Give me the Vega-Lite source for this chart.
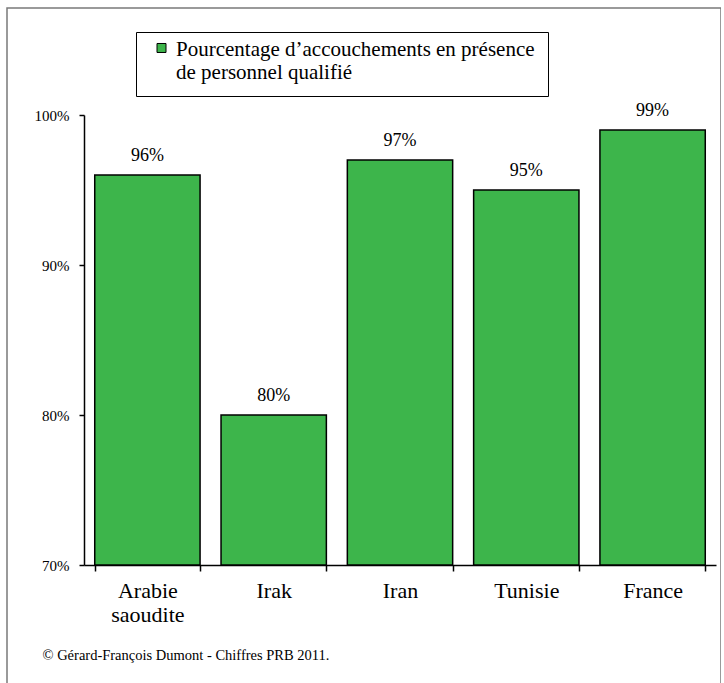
{
  "$schema": "https://vega.github.io/schema/vega-lite/v6.json",
  "width": 714,
  "height": 700,
  "autosize": "none",
  "padding": {"left": 7, "top": 8, "right": 0, "bottom": 0},
  "background": "white",
  "config": {
    "view": {"stroke": "#7a7a7a", "strokeWidth": 1.5},
    "font": "Liberation Serif",
    "axis": {"labelFont": "Liberation Serif", "titleFont": "Liberation Serif"},
    "legend": {"labelFont": "Liberation Serif"},
    "text": {"font": "Liberation Serif"}
  },
  "data": {
    "values": [
      {"pays": "Arabie saoudite", "taux": 0.96},
      {"pays": "Irak", "taux": 0.80},
      {"pays": "Iran", "taux": 0.97},
      {"pays": "Tunisie", "taux": 0.95},
      {"pays": "France", "taux": 0.99}
    ]
  },
  "encoding": {
    "x": {
      "field": "pays",
      "type": "nominal",
      "sort": null,
      "scale": {"range": [77, 709], "paddingInner": 0.166, "paddingOuter": 0.085},
      "axis": {
        "orient": "bottom",
        "offset": -143,
        "tickBand": "extent",
        "labelAngle": 0,
        "labelExpr": "split(datum.label, ' ')",
        "labelFont": "Liberation Serif",
        "labelFontSize": 22,
        "labelLineHeight": 24,
        "labelColor": "black",
        "labelPadding": 9,
        "labelBaseline": "top",
        "tickSize": 6,
        "tickColor": "black",
        "tickWidth": 1.5,
        "domainColor": "black",
        "domainWidth": 1.5,
        "grid": false,
        "title": "© Gérard-François Dumont - Chiffres PRB 2011.",
        "titleFont": "Liberation Serif",
        "titleFontSize": 14.5,
        "titleFontWeight": "normal",
        "titleColor": "black",
        "titleX": 35,
        "titleY": 90,
        "titleAlign": "left",
        "titleBaseline": "middle",
        "titleAngle": 0
      }
    },
    "y": {
      "field": "taux",
      "type": "quantitative",
      "scale": {"domain": [0.7, 1.0], "range": [557, 107], "zero": false},
      "axis": {
        "orient": "left",
        "offset": -77,
        "values": [0.7, 0.8, 0.9, 1.0],
        "format": ".0%",
        "labelFont": "Liberation Serif",
        "labelFontSize": 15,
        "labelColor": "black",
        "labelPadding": 10,
        "tickSize": 5,
        "tickColor": "black",
        "tickWidth": 1.5,
        "domainColor": "black",
        "domainWidth": 1.5,
        "grid": false,
        "title": null
      }
    }
  },
  "layer": [
    {
      "mark": {"type": "bar", "fill": "#3db54b", "stroke": "black", "strokeWidth": 1.5},
      "encoding": {
        "y2": {"datum": 0.7},
        "color": {
          "datum": "Pourcentage d’accouchements en présence de personnel qualifié",
          "type": "nominal",
          "scale": {"range": ["#3db54b"]},
          "legend": {
            "orient": "none",
            "legendX": 129,
            "legendY": 24,
            "title": null,
            "fillColor": "white",
            "strokeColor": "black",
            "padding": 13,
            "symbolType": "M-1,-2.67H1V-0.67H-1Z",
            "symbolSize": 81,
            "symbolOffset": 2,
            "symbolStrokeColor": "black",
            "symbolStrokeWidth": 1,
            "symbolFillColor": "#3db54b",
            "labelExpr": "['Pourcentage d’accouchements en présence', 'de personnel qualifié']",
            "labelFont": "Liberation Serif",
            "labelFontSize": 21,
            "labelLineHeight": 24,
            "labelColor": "black",
            "labelLimit": 600,
            "labelBaseline": "alphabetic",
            "labelOffset": 4
          }
        }
      }
    },
    {
      "mark": {"type": "text", "dy": -19, "fontSize": 18, "font": "Liberation Serif", "color": "black"},
      "encoding": {
        "text": {"field": "taux", "type": "quantitative", "format": ".0%"}
      }
    }
  ]
}
